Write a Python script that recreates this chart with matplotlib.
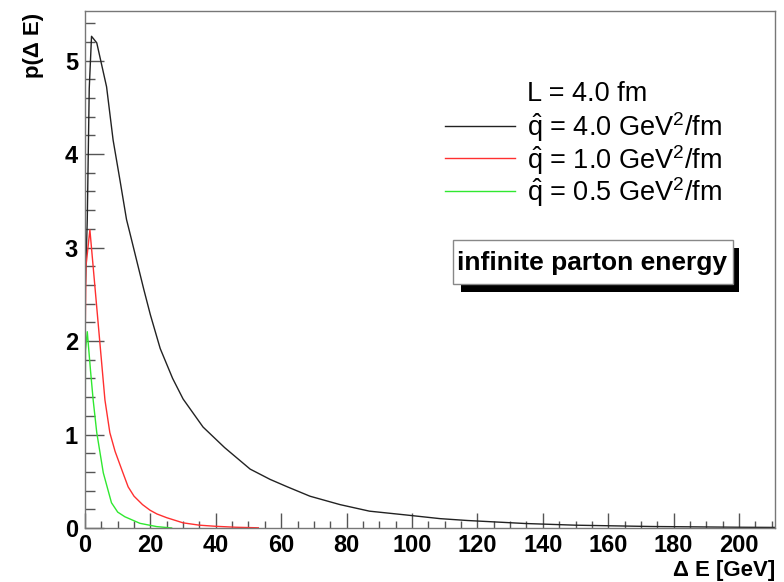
import matplotlib
matplotlib.use('Agg')
import matplotlib.pyplot as plt
from matplotlib.lines import Line2D
from matplotlib.patches import Rectangle
from matplotlib.ticker import MultipleLocator

plt.rcParams['font.family'] = ['Liberation Sans', 'DejaVu Sans']
plt.rcParams['mathtext.fontset'] = 'custom'
plt.rcParams['mathtext.rm'] = 'Liberation Sans'
plt.rcParams['mathtext.it'] = 'Liberation Sans'

# energy loss distributions
black_x = [0, 0.7, 1.3, 2.0, 3.6, 6.6, 8.6, 10.7, 12.7, 13.7, 18.0, 20.0, 23.0, 26.8, 30.0,
           36.1, 42.7, 50.5, 56.6, 61.9, 68.8, 78, 87, 98, 108.6, 117, 134.6, 150, 173, 200, 211]
black_y = [2.45, 3.3, 4.7, 5.26, 5.19, 4.72, 4.15, 3.72, 3.30, 3.16, 2.55, 2.28, 1.92, 1.6, 1.38,
           1.08, 0.86, 0.63, 0.52, 0.44, 0.34, 0.25, 0.18, 0.14, 0.10, 0.08, 0.048, 0.03, 0.016, 0.008, 0.006]

red_x = [0, 0.3, 1.5, 3.8, 6.1, 7.6, 9.2, 11.5, 13.2, 15, 17.6, 19.9, 22, 25, 30, 35, 40, 46, 53]
red_y = [1.87, 2.8, 3.19, 2.28, 1.37, 1.02, 0.82, 0.60, 0.44, 0.34, 0.25, 0.19, 0.15, 0.11,
         0.055, 0.03, 0.018, 0.008, 0.002]

green_x = [0, 0.15, 0.7, 1.7, 2.5, 3.6, 5.6, 8.1, 10, 12.2, 16.8, 21.9, 26.5]
green_y = [0.7, 1.9, 2.1, 1.68, 1.37, 1.02, 0.59, 0.27, 0.17, 0.12, 0.05, 0.015, 0.0]

legend_title = 'L = 4.0 fm'
labels = [r'$\hat{\mathrm{q}}$ = 4.0 GeV$^{2}$/fm',
          r'$\hat{\mathrm{q}}$ = 1.0 GeV$^{2}$/fm',
          r'$\hat{\mathrm{q}}$ = 0.5 GeV$^{2}$/fm']
colors = ['#222222', '#ff3030', '#30e830']

fig = plt.figure(figsize=(7.84, 5.82), dpi=100)
ax = fig.add_axes([0.1084, 0.0928, 0.8801, 0.8882])

ax.plot(black_x, black_y, color=colors[0], lw=1.0)
ax.plot(red_x, red_y, color=colors[1], lw=1.0)
ax.plot(green_x, green_y, color=colors[2], lw=1.0)

ax.set_xlim(0, 211)
ax.set_ylim(0, 5.53)
ax.xaxis.set_major_locator(MultipleLocator(20))
ax.xaxis.set_minor_locator(MultipleLocator(5))
ax.yaxis.set_major_locator(MultipleLocator(1))
ax.yaxis.set_minor_locator(MultipleLocator(0.2))

for s in ax.spines.values():
    s.set_color('#777777')
    s.set_linewidth(1.0)

ax.tick_params(axis='both', which='both', direction='in', colors='#555555',
               labelcolor='black', top=False, right=False)
ax.tick_params(axis='y', which='major', length=14, width=1.0, pad=5)
ax.tick_params(axis='y', which='minor', length=7, width=1.0)
ax.tick_params(axis='x', which='major', length=11, width=1.0, pad=4)
ax.tick_params(axis='x', which='minor', length=5, width=1.0)
for lab in ax.get_xticklabels() + ax.get_yticklabels():
    lab.set_fontsize(17)
    lab.set_fontweight('bold')

W, H = 784.0, 582.0

# axis titles placed like ROOT does
fig.text(33 / W, 1 - 13 / H, 'p(Δ E)', fontsize=16, fontweight='bold',
         rotation=90, ha='center', va='top')
fig.text(775 / W, 1 - 581 / H, 'Δ E [GeV]', fontsize=16, fontweight='bold',
         ha='right', va='bottom')

# legend drawn by hand, ROOT style
fig.text(527 / W, 1 - 101 / H, legend_title, fontsize=19.5, va='baseline', ha='left')
for i, (lab, c) in enumerate(zip(labels, colors)):
    yb = 136 + 32.5 * i
    fig.add_artist(Line2D([445 / W, 515 / W], [1 - (yb - 10) / H] * 2,
                          color=c, lw=1.0, transform=fig.transFigure))
    fig.text(527 / W, 1 - yb / H, lab, fontsize=19.5, va='baseline', ha='left')

# label box with shadow
fig.add_artist(Rectangle((461 / W, 1 - 292 / H), 278 / W, 44 / H,
                         facecolor='black', edgecolor='none', transform=fig.transFigure))
fig.add_artist(Rectangle((453 / W, 1 - 284 / H), 280 / W, 44 / H,
                         facecolor='white', edgecolor='#888888', lw=1.0, transform=fig.transFigure))
fig.text(592 / W, 1 - 263 / H, 'infinite parton energy', fontsize=19, fontweight='bold',
         ha='center', va='center')

fig.savefig('out.png', dpi=100)
